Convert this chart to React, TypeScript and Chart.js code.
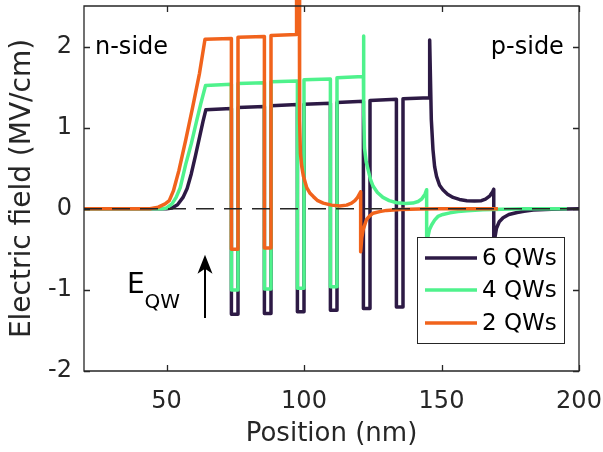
import { useEffect, useRef } from "react";
import { Chart, registerables } from "chart.js";

Chart.register(...registerables);

const FONT_FAMILY = "'DejaVu Sans', 'Liberation Sans', Arial, sans-serif";
const INK = "#262626";

// Electric field along the structure for devices with 6, 4 and 2 quantum wells
const seriesNames = ["6 QWs", "4 QWs", "2 QWs"];
const seriesColors = ["#2d1a45", "#4ff28c", "#f1631c"];

const position6 = [
  20, 50, 52, 54, 56, 57.5, 59, 60.5, 62, 63.3, 64.3,
  73.6, 73.6, 76.0, 76.0,
  85.6, 85.6, 88.0, 88.0,
  97.6, 97.6, 100.0, 100.0,
  109.6, 109.6, 112.0, 112.0,
  121.6, 121.6, 124.0, 124.0,
  133.6, 133.6, 136.0, 136.0,
  145.7, 145.7, 146.3, 146.9, 147.5, 148.2, 149.3, 150.5, 152.2, 154.2, 156.5, 159.2, 162, 164.5, 166, 167.6, 168.6, 169.0,
  169.0, 169.4, 170.0, 171.0, 172.4, 174.5, 177.5, 180, 183.3, 190, 200,
];
const field6 = [
  0, 0, 0.01, 0.05, 0.14, 0.25, 0.43, 0.65, 0.88, 1.08, 1.22,
  1.235, -1.3, -1.3, 1.25,
  1.26, -1.29, -1.29, 1.27,
  1.285, -1.27, -1.27, 1.29,
  1.3, -1.25, -1.25, 1.31,
  1.325, -1.23, -1.23, 1.335,
  1.35, -1.21, -1.21, 1.355,
  1.37, 2.08, 1.1, 0.73, 0.52, 0.4, 0.29, 0.235, 0.18, 0.14, 0.115, 0.1, 0.095, 0.1, 0.12, 0.16, 0.21, 0.24,
  -0.5, -0.36, -0.24, -0.16, -0.11, -0.07, -0.045, -0.03, -0.015, -0.005, 0,
];

const position4 = [
  20, 48.5, 50, 52, 53.5, 55, 57, 59, 61, 62.5, 64.2,
  73.6, 73.6, 76.0, 76.0,
  85.6, 85.6, 88.0, 88.0,
  97.6, 97.6, 100.0, 100.0,
  109.6, 109.6, 112.0, 112.0,
  121.6, 121.6, 121.8, 122.0, 122.6, 123.4, 124.2, 125.1, 126.7, 128.7, 131, 133.7, 137, 139.6, 141.5, 142.8, 144.0, 144.6,
  144.6, 145.1, 145.6, 146.4, 147.5, 148.7, 150.5, 153.1, 156, 159.3, 165, 172, 180, 195.6,
];
const field4 = [
  0, 0, 0.01, 0.06, 0.14, 0.26, 0.55, 0.8, 1.09, 1.3, 1.52,
  1.535, -1.0, -1.0, 1.545,
  1.555, -0.99, -0.99, 1.565,
  1.575, -0.98, -0.98, 1.59,
  1.6, -0.96, -0.96, 1.615,
  1.63, 2.13, 1.2, 0.75, 0.58, 0.47, 0.36, 0.28, 0.2, 0.14, 0.1, 0.075, 0.065, 0.07, 0.09, 0.12, 0.18, 0.235,
  -0.5, -0.34, -0.26, -0.2, -0.14, -0.095, -0.07, -0.05, -0.035, -0.025, -0.012, -0.005, 0, 0,
];

const position2 = [
  20, 44, 47, 49.5, 51, 52.5, 54.5, 57, 59.5, 62, 64,
  73.6, 73.6, 76.0, 76.0,
  85.6, 85.6, 88.0, 88.0,
  97.3, 97.3, 98.3, 98.4, 98.7, 99.2, 99.8, 101, 102.2, 103.4, 105, 107, 110, 113, 115.5, 117.3, 118.5, 119.5, 120.6,
  120.6, 121.0, 121.5, 122.7, 123.8, 125.1, 127.5, 130, 135, 142, 150, 170.5,
];
const field2 = [
  0, 0, 0.02, 0.06, 0.1, 0.22, 0.47, 0.85, 1.25, 1.67, 2.09,
  2.1, -0.5, -0.5, 2.115,
  2.125, -0.485, -0.485, 2.135,
  2.15, 2.9, 2.9, 1.1, 0.68, 0.52, 0.4, 0.26, 0.19, 0.15, 0.1, 0.07, 0.045, 0.035, 0.045, 0.07, 0.1, 0.14, 0.21,
  -0.53, -0.36, -0.26, -0.135, -0.09, -0.055, -0.035, -0.02, -0.01, -0.004, 0, 0,
];

// Dashed zero reference
const zeroPosition = [20, 200];
const zeroField = [0, 0];

const xTickValues = [50, 100, 150, 200];
const xTickLabels = ["50", "100", "150", "200"];
const yTickValues = [-2, -1, 0, 1, 2];
const yTickLabels = ["-2", "-1", "0", "1", "2"];

// Text annotations, placed in data coordinates (nm, MV/cm)
const nSideAnchor = [24.0, 1.91];
const pSideAnchor = [194.5, 1.91];
const eqwAnchor = [35.6, -1.037];
const eqwSubBaseline = -1.222;
const arrowX = 64.0;
const arrowFrom = -1.346;
const arrowTo = -0.568;

const TICK_LEN = 6;

const toPoints = (xs: number[], ys: number[]) => xs.map((x, i) => ({ x, y: ys[i] }));

const overlayPlugin = {
  id: "overlay",
  afterDatasetsDraw(chart: any) {
    const { ctx, chartArea: a } = chart;
    const xs = chart.scales.x;
    const ys = chart.scales.y;
    ctx.save();

    // Axes box with inward ticks on all four sides
    ctx.strokeStyle = INK;
    ctx.lineWidth = 1.3;
    ctx.beginPath();
    ctx.rect(a.left, a.top, a.right - a.left, a.bottom - a.top);
    for (const v of xTickValues) {
      const px = Math.round(xs.getPixelForValue(v)) + 0.5;
      ctx.moveTo(px, a.bottom);
      ctx.lineTo(px, a.bottom - TICK_LEN);
      ctx.moveTo(px, a.top);
      ctx.lineTo(px, a.top + TICK_LEN);
    }
    for (const v of yTickValues) {
      const py = Math.round(ys.getPixelForValue(v)) + 0.5;
      ctx.moveTo(a.left, py);
      ctx.lineTo(a.left + TICK_LEN, py);
      ctx.moveTo(a.right, py);
      ctx.lineTo(a.right - TICK_LEN, py);
    }
    ctx.stroke();

    // Side labels
    ctx.fillStyle = "#000";
    ctx.textBaseline = "alphabetic";
    ctx.font = `24px ${FONT_FAMILY}`;
    ctx.textAlign = "left";
    ctx.fillText("n-side", xs.getPixelForValue(nSideAnchor[0]), ys.getPixelForValue(nSideAnchor[1]));
    ctx.textAlign = "right";
    ctx.fillText("p-side", xs.getPixelForValue(pSideAnchor[0]), ys.getPixelForValue(pSideAnchor[1]));

    // E_QW with subscript
    ctx.textAlign = "left";
    ctx.font = `28px ${FONT_FAMILY}`;
    const ex = xs.getPixelForValue(eqwAnchor[0]);
    ctx.fillText("E", ex, ys.getPixelForValue(eqwAnchor[1]));
    const ew = ctx.measureText("E").width;
    ctx.font = `20px ${FONT_FAMILY}`;
    ctx.fillText("QW", ex + ew, ys.getPixelForValue(eqwSubBaseline));

    // Field direction arrow
    const ax = xs.getPixelForValue(arrowX);
    const ay0 = ys.getPixelForValue(arrowFrom);
    const ay1 = ys.getPixelForValue(arrowTo);
    ctx.strokeStyle = "#000";
    ctx.lineWidth = 2;
    ctx.beginPath();
    ctx.moveTo(ax, ay0);
    ctx.lineTo(ax, ay1 + 12);
    ctx.stroke();
    ctx.fillStyle = "#000";
    ctx.beginPath();
    ctx.moveTo(ax, ay1);
    ctx.lineTo(ax + 7.5, ay1 + 19);
    ctx.lineTo(ax, ay1 + 14);
    ctx.lineTo(ax - 7.5, ay1 + 19);
    ctx.closePath();
    ctx.fill();

    // Legend
    const boxRight = a.right - 15;
    const boxBottom = a.bottom - 28;
    const boxW = 147;
    const boxH = 106;
    const bx = boxRight - boxW;
    const by = boxBottom - boxH;
    ctx.fillStyle = "#fff";
    ctx.fillRect(bx, by, boxW, boxH);
    ctx.strokeStyle = INK;
    ctx.lineWidth = 1;
    ctx.strokeRect(Math.round(bx) + 0.5, Math.round(by) + 0.5, boxW, boxH);
    ctx.font = `23px ${FONT_FAMILY}`;
    ctx.textBaseline = "middle";
    ctx.textAlign = "left";
    const rows = [21, 53, 86];
    seriesNames.forEach((name, i) => {
      const ry = by + rows[i];
      ctx.strokeStyle = seriesColors[i];
      ctx.lineWidth = 3.5;
      ctx.beginPath();
      ctx.moveTo(bx + 8, ry);
      ctx.lineTo(bx + 60, ry);
      ctx.stroke();
      ctx.fillStyle = "#000";
      ctx.fillText(name, bx + 65, ry + 1.5);
    });

    ctx.restore();
  },
};

export default function App() {
  const canvasRef = useRef<HTMLCanvasElement | null>(null);

  useEffect(() => {
    const canvas = canvasRef.current;
    if (!canvas) return;

    const lineStyle = {
      borderWidth: 3.5,
      pointRadius: 0,
      tension: 0,
      borderJoinStyle: "round" as const,
      borderCapStyle: "butt" as const,
      fill: false,
    };

    const chart = new Chart(canvas, {
      type: "line",
      data: {
        datasets: [
          {
            label: "zero",
            data: toPoints(zeroPosition, zeroField),
            borderColor: INK,
            borderWidth: 1.5,
            borderDash: [18, 10],
            pointRadius: 0,
            order: 0,
          },
          {
            label: seriesNames[2],
            data: toPoints(position2, field2),
            borderColor: seriesColors[2],
            ...lineStyle,
            order: 1,
            clip: { left: 0, top: 8, right: 0, bottom: 0 },
          },
          {
            label: seriesNames[1],
            data: toPoints(position4, field4),
            borderColor: seriesColors[1],
            ...lineStyle,
            order: 2,
          },
          {
            label: seriesNames[0],
            data: toPoints(position6, field6),
            borderColor: seriesColors[0],
            ...lineStyle,
            order: 3,
          },
        ],
      },
      options: {
        responsive: false,
        animation: false,
        devicePixelRatio: 1,
        layout: { padding: { left: 0, top: 6, right: 24, bottom: 0 } },
        plugins: {
          legend: { display: false },
          tooltip: { enabled: false },
        },
        scales: {
          x: {
            type: "linear",
            min: 20,
            max: 200,
            afterBuildTicks: (scale: any) => {
              scale.ticks = xTickValues.map((value) => ({ value }));
            },
            afterFit: (scale: any) => {
              scale.height = 81;
              scale.paddingLeft = 0;
              scale.paddingRight = 0;
            },
            grid: { display: false, drawTicks: false },
            border: { display: false },
            ticks: {
              autoSkip: false,
              maxRotation: 0,
              padding: 16,
              color: INK,
              font: { family: FONT_FAMILY, size: 24 },
              callback: (_v: any, i: number) => xTickLabels[i],
            },
            title: {
              display: true,
              text: "Position (nm)",
              color: INK,
              font: { family: FONT_FAMILY, size: 26 },
              padding: { top: 0, bottom: 2 },
            },
          },
          y: {
            type: "linear",
            min: -2,
            max: 2.5,
            afterBuildTicks: (scale: any) => {
              scale.ticks = yTickValues.map((value) => ({ value }));
            },
            afterFit: (scale: any) => {
              scale.width = 84;
              scale.paddingTop = 0;
              scale.paddingBottom = 0;
            },
            grid: { display: false, drawTicks: false },
            border: { display: false },
            ticks: {
              autoSkip: false,
              padding: 12,
              color: INK,
              font: { family: FONT_FAMILY, size: 24 },
              callback: (_v: any, i: number) => yTickLabels[i],
            },
            title: {
              display: true,
              text: "Electric field (MV/cm)",
              color: INK,
              font: { family: FONT_FAMILY, size: 28 },
              padding: { top: 6, bottom: 0 },
            },
          },
        },
      },
      plugins: [overlayPlugin],
    });

    return () => chart.destroy();
  }, []);

  return (
    <div
      style={{
        position: "fixed",
        left: 0,
        top: 0,
        width: 603,
        height: 452,
        background: "#fff",
      }}
    >
      <canvas ref={canvasRef} width={603} height={452} style={{ display: "block", width: 603, height: 452 }} />
    </div>
  );
}
